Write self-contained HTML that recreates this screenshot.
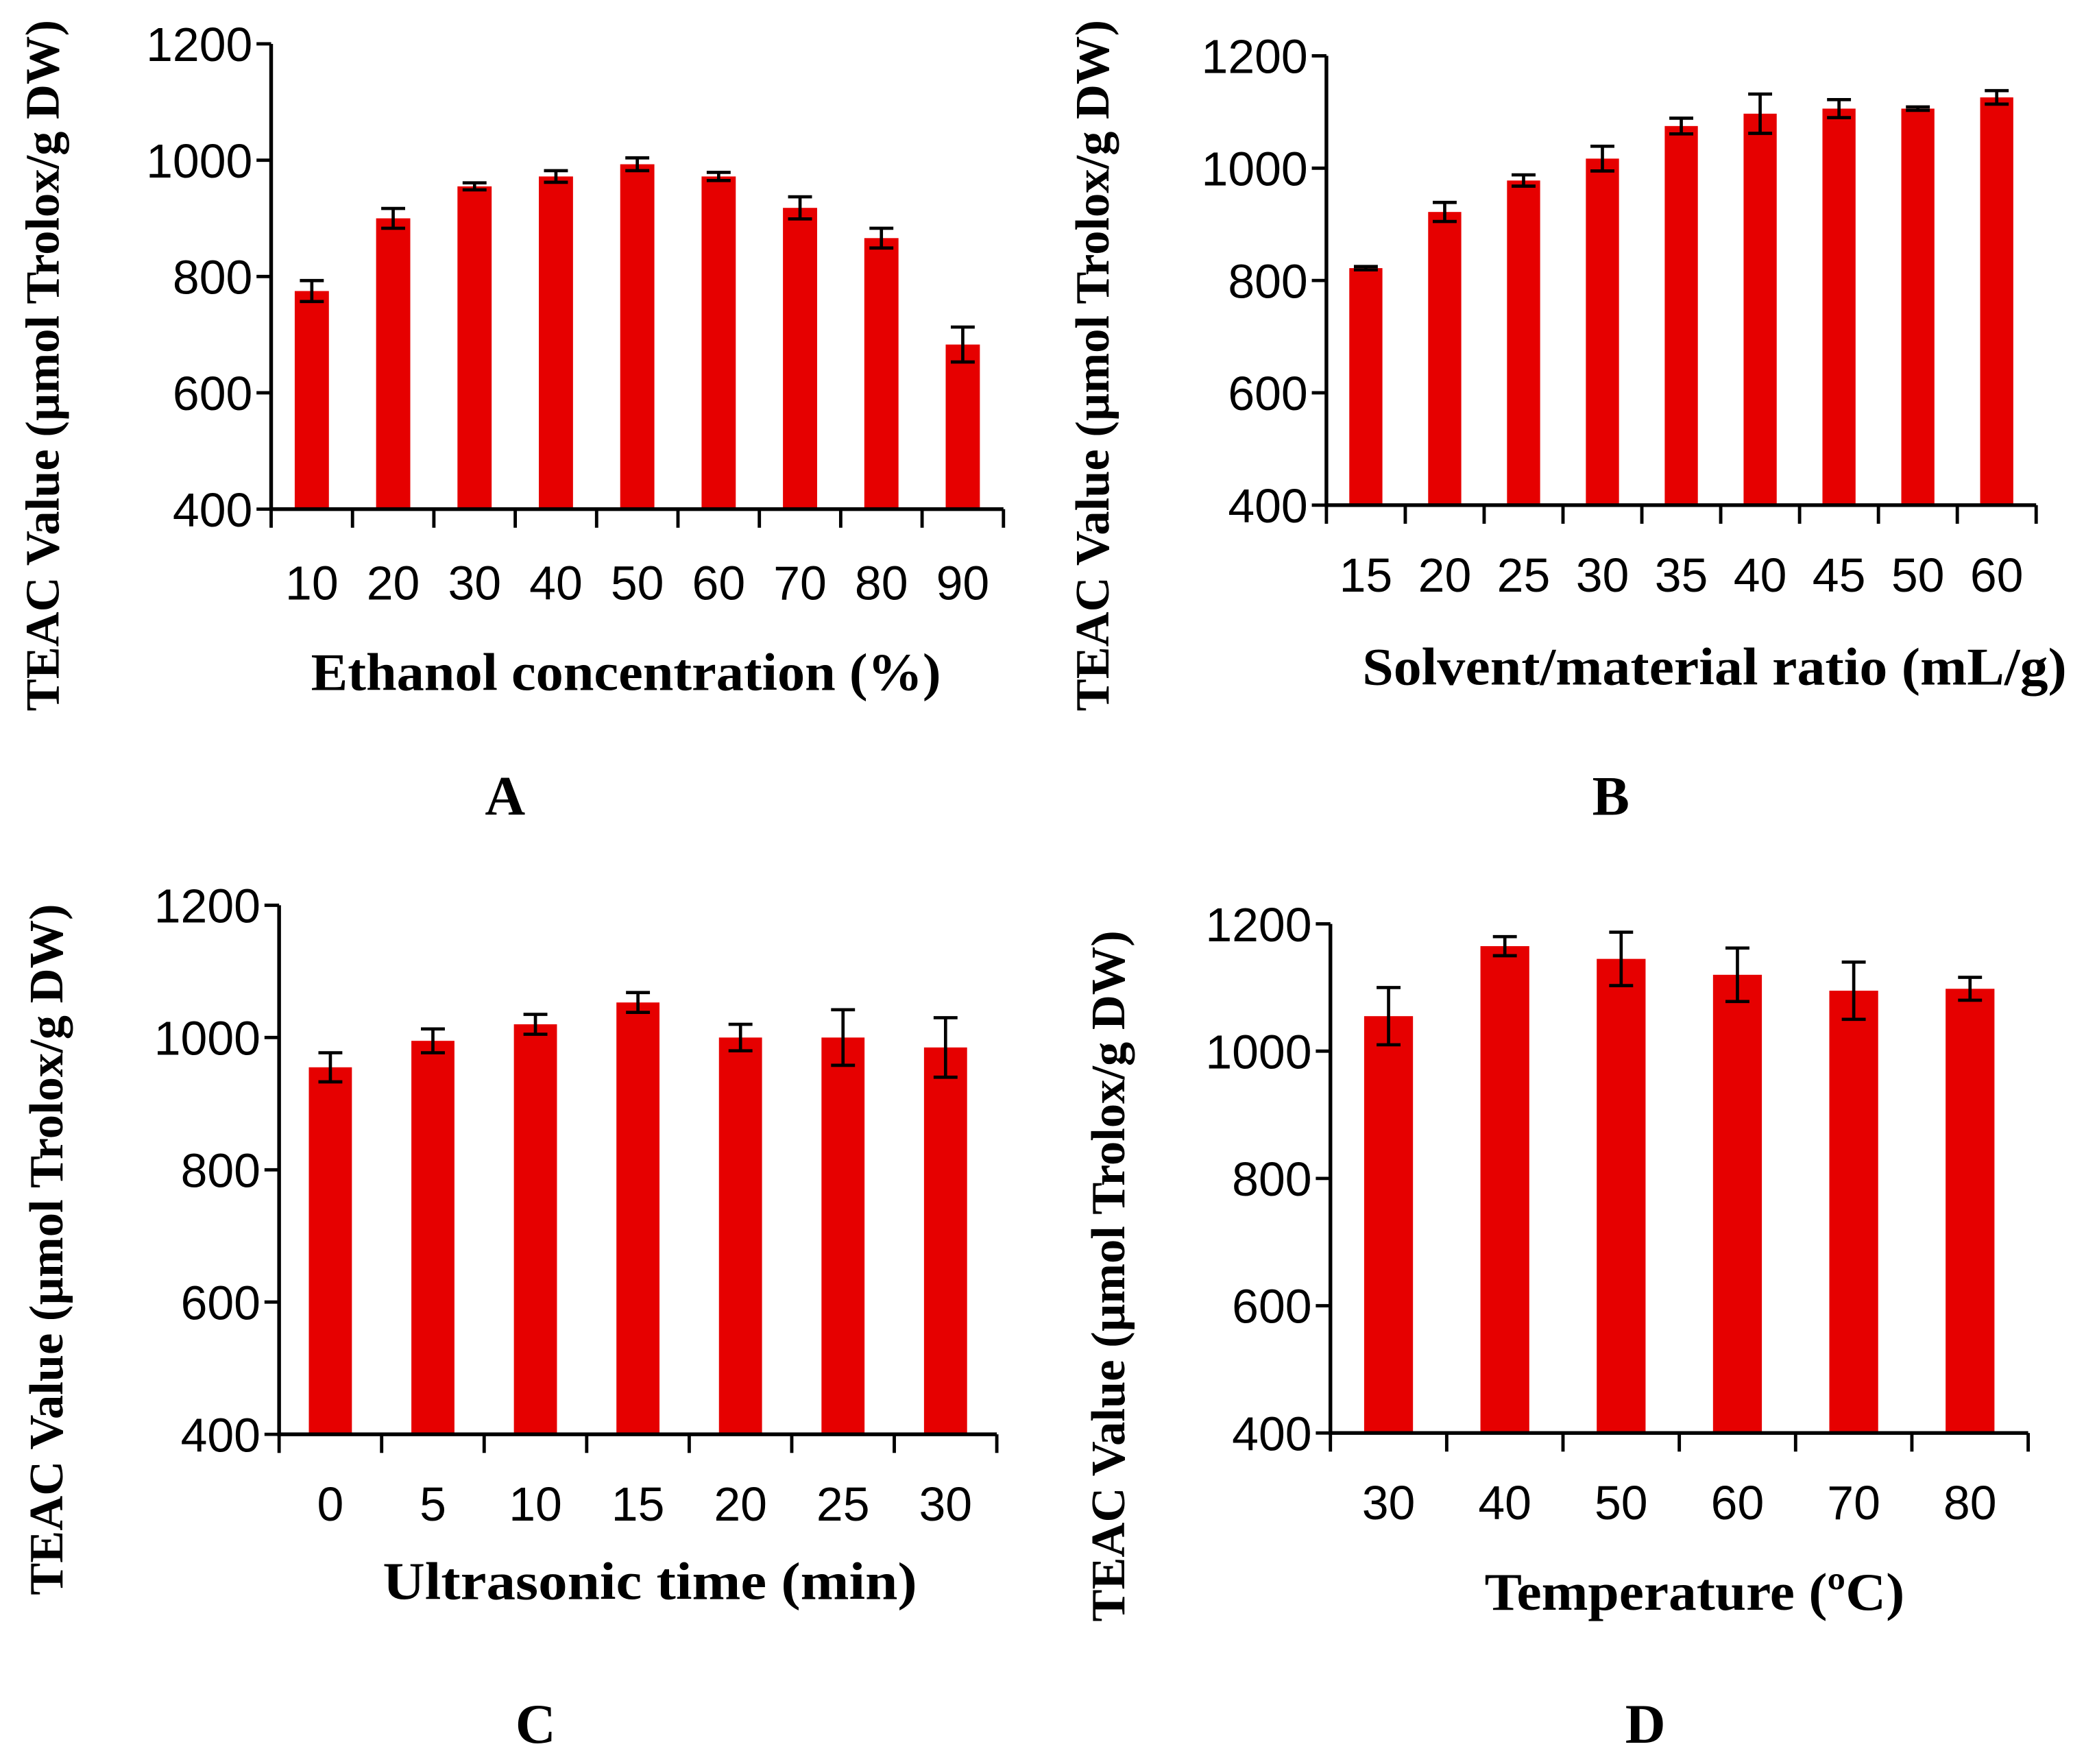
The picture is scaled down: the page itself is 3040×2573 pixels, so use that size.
<!DOCTYPE html>
<html><head><meta charset="utf-8"><style>
html,body{margin:0;padding:0;background:#fff;}
svg{display:block;}
.tk{font-family:"Liberation Sans",sans-serif;font-size:36px;fill:#000;}
.ttl{font-family:"Liberation Serif",serif;font-weight:bold;fill:#000;}
</style></head><body>
<svg id="fig" width="3040" height="2573" viewBox="0 0 1568 1327" preserveAspectRatio="none" xmlns="http://www.w3.org/2000/svg"></svg>
<script>
const catsA = ["10","20","30","40","50","60","70","80","90"];
const valsA = [775,900,955,972,993,972,918,866,683];
const errA  = [18,17,6,10,11,7,19,17,30];
const catsB = ["15","20","25","30","35","40","45","50","60"];
const valsB = [822,922,978,1017,1075,1097,1106,1106,1126];
const errB  = [3,17,10,22,14,35,16,3,12];
const catsC = ["0","5","10","15","20","25","30"];
const valsC = [955,995,1020,1053,1000,1000,985];
const errC  = [22,18,15,15,20,42,45];
const catsD = ["30","40","50","60","70","80"];
const valsD = [1055,1165,1145,1120,1095,1098];
const errD  = [45,15,42,42,45,18];
const yTicks = [400,600,800,1000,1200];

const NS="http://www.w3.org/2000/svg";
const svg=document.getElementById('fig');
function mk(tag,attrs,parent){const e=document.createElementNS(NS,tag);for(const k in attrs)e.setAttribute(k,attrs[k]);(parent||svg).appendChild(e);return e;}

const panels=[
 {id:'a',cats:catsA,vals:valsA,err:errA,x0:204,x1:755,yTop:33,yBot:383,tickY:451,xl:"Ethanol concentration (%)",xlX:471,xlY:519,xlW:474,ylX:44,ylY:275,letter:"A",lX:380,lY:613},
 {id:'b',cats:catsB,vals:valsB,err:errB,x0:998,x1:1532,yTop:42,yBot:380,tickY:445,xl:"Solvent/material ratio (mL/g)",xlX:1290,xlY:515,xlW:530,ylX:834,ylY:275,letter:"B",lX:1212,lY:613},
 {id:'c',cats:catsC,vals:valsC,err:errC,x0:210,x1:750,yTop:681,yBot:1079,tickY:1144,xl:"Ultrasonic  time (min)",xlX:489,xlY:1203,xlW:402,ylX:47,ylY:940,letter:"C",lX:403,lY:1311},
 {id:'d',cats:catsD,vals:valsD,err:errD,x0:1001,x1:1526,yTop:695,yBot:1078,tickY:1143,xl:"Temperature (\u00BAC)",xlX:1275,xlY:1211,xlW:316,ylX:846,ylY:960,letter:"D",lX:1238,lY:1311}
];

panels.forEach(p=>{
  const g=mk('g',{});
  
  
  const y=v=>p.yBot-(v-400)/800*(p.yBot-p.yTop);
  const n=p.cats.length, step=(p.x1-p.x0)/n;
  const xc=i=>p.x0+step*(i+0.5);
  const bw=step*0.42;
  p.vals.forEach((v,i)=>{
    const r=mk('rect',{x:xc(i)-bw/2,y:y(v),width:bw,height:p.yBot-y(v),fill:'#e60000'},g);
    
    
    const e=p.err[i], hi=y(v+e), lo=y(v-e), cw=9;
    const eb=mk('path',{d:`M${xc(i)},${hi}V${lo}M${xc(i)-cw},${hi}H${xc(i)+cw}M${xc(i)-cw},${lo}H${xc(i)+cw}`,stroke:'#000','stroke-width':2.4,fill:'none'},g);
    
    
  });
  const ax=mk('path',{d:`M${p.x0},${p.yTop}V${p.yBot}H${p.x1}`,stroke:'#000','stroke-width':2.8,fill:'none'},g);
  
  
  yTicks.forEach(t=>{
    mk('line',{x1:p.x0-11,x2:p.x0,y1:y(t),y2:y(t),stroke:'#000','stroke-width':2.5},g);
    const tx=mk('text',{x:p.x0-14,y:y(t)+13,'text-anchor':'end',class:'tk'},g);
    tx.textContent=t;
    
    
  });
  for(let i=0;i<=n;i++){
    mk('line',{x1:p.x0+step*i,x2:p.x0+step*i,y1:p.yBot,y2:p.yBot+14,stroke:'#000','stroke-width':2.5},g);
  }
  p.cats.forEach((c,i)=>{
    const tx=mk('text',{x:xc(i),y:p.tickY,'text-anchor':'middle',class:'tk'},g);
    tx.textContent=c;
    
    
  });
  const xl=mk('text',{x:p.xlX,y:p.xlY,'text-anchor':'middle',class:'ttl','font-size':40,textLength:p.xlW,lengthAdjust:'spacingAndGlyphs'},g);
  xl.textContent=p.xl;
  
  
  const yl=mk('text',{x:0,y:0,'text-anchor':'middle',class:'ttl','font-size':36,textLength:520,lengthAdjust:'spacingAndGlyphs',transform:`translate(${p.ylX},${p.ylY}) rotate(-90)`},g);
  yl.textContent="TEAC Value (\u00B5mol Trolox/g DW)";
  
  
  const lt=mk('text',{x:p.lX,y:p.lY,'text-anchor':'middle',class:'ttl','font-size':42},g);
  lt.textContent=p.letter;
  
  
});
</script>
</body></html>
